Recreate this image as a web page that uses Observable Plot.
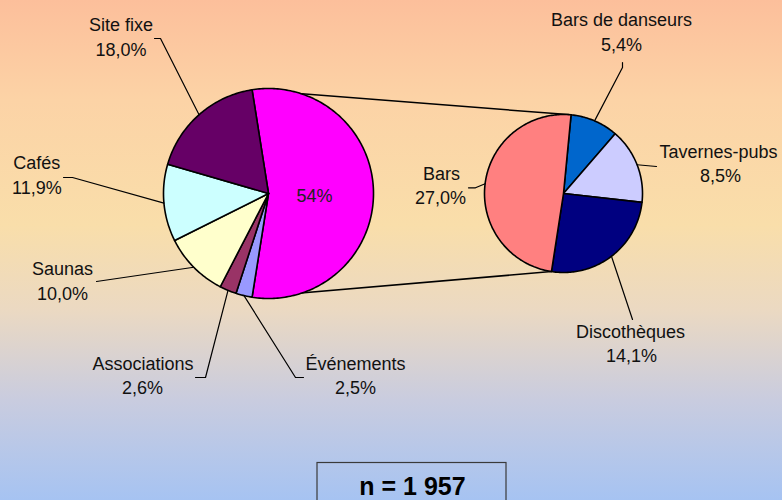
<!DOCTYPE html>
<html>
<head>
<meta charset="utf-8">
<script src="https://cdn.jsdelivr.net/npm/d3@7"></script>
<script src="https://cdn.jsdelivr.net/npm/@observablehq/plot@0.6"></script>
<style>
  html, body { margin: 0; padding: 0; }
  body {
    width: 782px; height: 500px; overflow: hidden;
    background: linear-gradient(to bottom, #FCBF9B 0%, #FCD3A6 20%, #F9DEAA 45%, #EBD9C2 62%, #C9CCDF 80%, #A6C3F2 100%);
    font-family: "Liberation Sans", Arial, sans-serif;
  }
  #chart svg { display: block; }
</style>
</head>
<body>
<div id="chart"></div>
<script>
// ---- Data ----
const mainCategories = ["Événements", "Associations", "Saunas", "Cafés", "Site fixe"];
const mainValues = [2.5, 2.6, 10.0, 11.9, 18.0];
const mainLabels = ["2,5%", "2,6%", "10,0%", "11,9%", "18,0%"];
const groupLabel = "54%";
const subCategories = ["Bars de danseurs", "Tavernes-pubs", "Discothèques", "Bars"];
const subValues = [5.4, 8.5, 14.1, 27.0];
const subLabels = ["5,4%", "8,5%", "14,1%", "27,0%"];
const sampleNote = "n = 1 957";

// ---- Styles / layout ----
const groupColor = "#FF00FF";
const mainColors = ["#9999FF", "#993366", "#FFFFCC", "#CCFFFF", "#660066"];
const subColors = ["#0066CC", "#CCCCFF", "#000080", "#FF8080"];
const left = {cx: 268, cy: 193, r: 105};
const right = {cx: 563, cy: 193, r: 79, start: 5.5};
// label layout: [name x, value x, name baseline, value baseline, leader polyline start points]
const mainLayout = [
  {nx: 355, vx: 355, ny: 369, vy: 393.3, lead: [[303, 377], [295, 377]]},
  {nx: 142.5, vx: 142, ny: 369, vy: 393.3, lead: [[195, 377], [205, 377]]},
  {nx: 62, vx: 62, ny: 274, vy: 299, lead: [[96, 281]]},
  {nx: 36.3, vx: 36.3, ny: 168.3, vy: 193.3, lead: [[63, 177], [72, 177]]},
  {nx: 120.5, vx: 120.5, ny: 30, vy: 55, lead: [[154, 38], [160, 38]]}
];
const subLayout = [
  {nx: 621, vx: 621, ny: 25.7, vy: 50, lead: [[622, 62], [622, 67]]},
  {nx: 718, vx: 720, ny: 157.7, vy: 181.7, lead: [[656, 166]]},
  {nx: 630, vx: 631, ny: 337.7, vy: 361.7, lead: [[632, 319]]},
  {nx: 441, vx: 440, ny: 179, vy: 203.3, lead: [[468, 187.3], [475, 187.3]]}
];
const FS = 18;
const base = FS * 0.32;

// ---- Geometry from data ----
const rad = d => d * Math.PI / 180;
const pt = (p, a, r = p.r) => [p.cx + r * Math.sin(rad(a)), p.cy - r * Math.cos(rad(a))];
function arcPoly(p, a0, a1) {
  const pts = [[p.cx, p.cy]];
  const n = Math.max(2, Math.ceil(Math.abs(a1 - a0)));
  for (let i = 0; i <= n; i++) pts.push(pt(p, a0 + (a1 - a0) * i / n));
  return pts;
}

const groupValue = d3.sum(subValues);
const mainTotal = d3.sum(mainValues) + groupValue;
const groupSpan = groupValue / mainTotal * 360;
const gStart = 90 - groupSpan / 2, gEnd = 90 + groupSpan / 2;

const slices = [];
slices.push({poly: arcPoly(left, gStart, gEnd), color: groupColor});
let a = gEnd;
const mainMid = [];
mainValues.forEach((v, i) => {
  const s = v / mainTotal * 360;
  slices.push({poly: arcPoly(left, a, a + s), color: mainColors[i]});
  mainMid.push(a + s / 2);
  a += s;
});
const subTotal = d3.sum(subValues);
let b = right.start;
const subMid = [];
subValues.forEach((v, i) => {
  const s = v / subTotal * 360;
  slices.push({poly: arcPoly(right, b, b + s), color: subColors[i]});
  subMid.push(b + s / 2);
  b += s;
});

const connectors = [
  {p1: pt(left, gStart), p2: pt(right, right.start)},
  {p1: pt(left, gEnd), p2: pt(right, right.start + subValues.slice(0, 3).reduce((s, v) => s + v / subTotal * 360, 0))}
];

const leaders = [];
mainLayout.forEach((L, i) => leaders.push([...L.lead, pt(left, mainMid[i])]));
subLayout.forEach((L, i) => leaders.push([...L.lead, pt(right, subMid[i])]));

const texts = [];
mainCategories.forEach((c, i) => {
  const L = mainLayout[i];
  texts.push({x: L.nx, y: L.ny - base, t: c});
  texts.push({x: L.vx, y: L.vy - base, t: mainLabels[i]});
});
subCategories.forEach((c, i) => {
  const L = subLayout[i];
  texts.push({x: L.nx, y: L.ny - base, t: c});
  texts.push({x: L.vx, y: L.vy - base, t: subLabels[i]});
});
const groupLabelPos = pt(left, 90, 46);

const marks = [];
marks.push(Plot.link(connectors, {x1: d => d.p1[0], y1: d => d.p1[1], x2: d => d.p2[0], y2: d => d.p2[1], stroke: "black", strokeWidth: 1.5}));
slices.forEach(s => {
  marks.push(Plot.line(s.poly, {x: d => d[0], y: d => d[1], fill: s.color, stroke: "black", strokeWidth: 1.6, curve: "linear-closed", strokeLinejoin: "round"}));
});
leaders.forEach(l => {
  marks.push(Plot.line(l, {x: d => d[0], y: d => d[1], stroke: "black", strokeWidth: 1.2}));
});
marks.push(Plot.text(texts, {x: "x", y: "y", text: "t", fontSize: FS, fill: "#111", textAnchor: "middle"}));
marks.push(Plot.text([groupLabel], {x: () => groupLabelPos[0], y: () => groupLabelPos[1] + 3, text: d => d, fontSize: FS, fill: "#222"}));
marks.push(Plot.rect([sampleNote], {x1: () => 317, x2: () => 506, y1: () => 462.5, y2: () => 510, fill: "none", stroke: "#3a3a3a", strokeWidth: 1.2}));
marks.push(Plot.text([sampleNote], {x: () => 412, y: () => 494 - 25 * 0.32, text: d => d, fontSize: 25, fontWeight: "bold", fill: "black"}));

const chart = Plot.plot({
  width: 782, height: 500,
  margin: 0, marginTop: 0, marginRight: 0, marginBottom: 0, marginLeft: 0,
  x: {domain: [0, 782], range: [0, 782], axis: null},
  y: {domain: [0, 500], range: [0, 500], axis: null},
  style: {background: "transparent", fontFamily: "'Liberation Sans', Arial, sans-serif", overflow: "hidden"},
  marks
});
document.getElementById("chart").appendChild(chart);
</script>
</body>
</html>
